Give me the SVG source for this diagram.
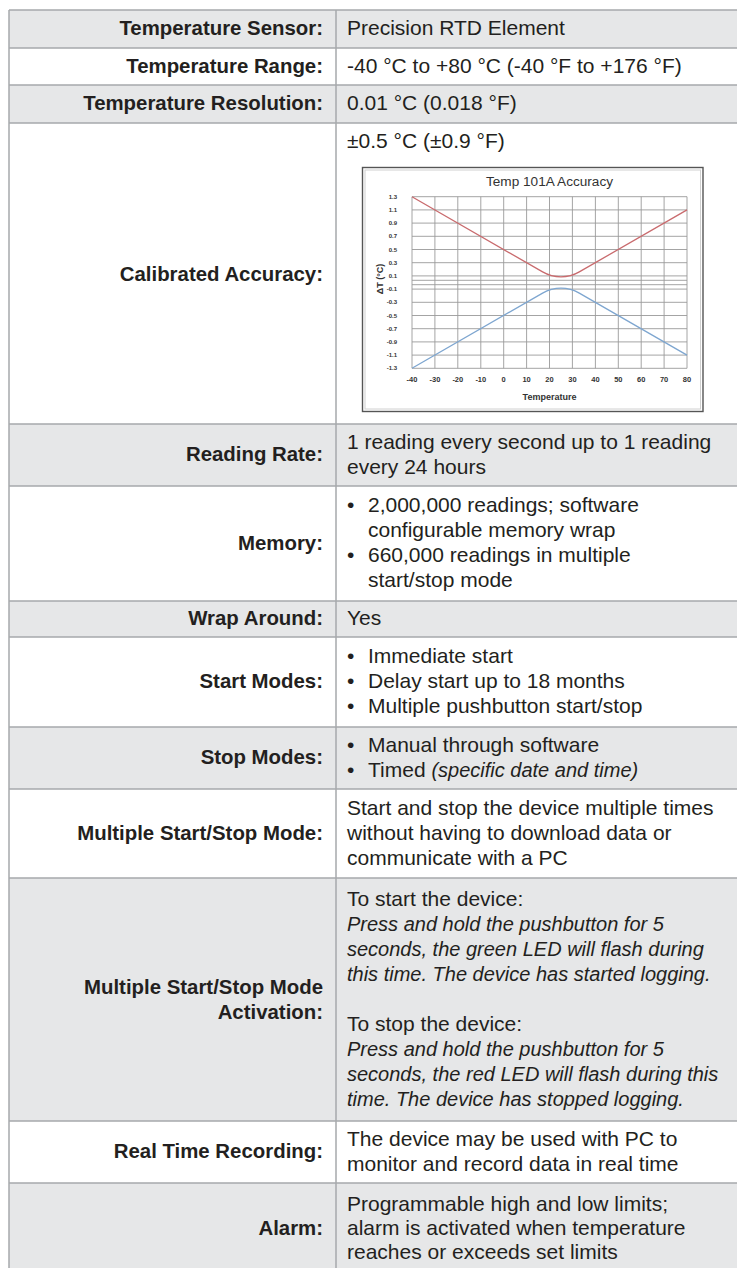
<svg xmlns="http://www.w3.org/2000/svg" width="737" height="1268" viewBox="0 0 737 1268">
<style>
.g{fill:#e6e7e8}
.w{fill:#ffffff}
.ln{stroke:#a7a9ac;stroke-width:1.5;fill:none}
.lb{font-family:"Liberation Sans",Arial,sans-serif;font-weight:bold;font-size:20.4px;fill:#231f20;text-anchor:end}
.v{font-family:"Liberation Sans",Arial,sans-serif;font-size:21px;fill:#231f20}
.i{font-family:"Liberation Sans",Arial,sans-serif;font-size:20px;font-style:italic;fill:#231f20}
.grid{stroke:#9a9a9a;stroke-width:0.9;fill:none}
.tk{font-family:"Liberation Sans",Arial,sans-serif;font-size:6px;font-weight:bold;fill:#333;text-anchor:end}
.tx{font-family:"Liberation Sans",Arial,sans-serif;font-size:7.5px;font-weight:bold;fill:#333;text-anchor:middle}
</style>
<rect x="0" y="0" width="737" height="1268" fill="#ffffff"/>
<g id="row-sensor">
<rect class="g" x="9" y="10" width="728" height="38"/>
<text class="lb" x="323" y="35">Temperature Sensor:</text>
<text class="v" x="347" y="35">Precision RTD Element</text>
</g>
<g id="row-range">
<rect class="w" x="9" y="48" width="728" height="37"/>
<text class="lb" x="323" y="72.5">Temperature Range:</text>
<text class="v" x="347" y="72.5">-40 °C to +80 °C (-40 °F to +176 °F)</text>
</g>
<g id="row-resolution">
<rect class="g" x="9" y="85" width="728" height="38"/>
<text class="lb" x="323" y="110">Temperature Resolution:</text>
<text class="v" x="347" y="110">0.01 °C (0.018 °F)</text>
</g>
<g id="row-accuracy">
<rect class="w" x="9" y="123" width="728" height="301"/>
<text class="lb" x="323" y="281">Calibrated Accuracy:</text>
<text class="v" x="347" y="147.5">±0.5 °C (±0.9 °F)</text>
<g id="chart">
<rect x="362.5" y="167.5" width="340.5" height="244" fill="#ffffff" stroke="#555555" stroke-width="1.4"/>
<rect x="365" y="170" width="335.5" height="239" fill="none" stroke="#d0d0d0" stroke-width="1"/>
<text x="549.5" y="186" font-family="Liberation Sans, Arial, sans-serif" font-size="12" fill="#333" text-anchor="middle" textLength="127" lengthAdjust="spacingAndGlyphs">Temp 101A Accuracy</text>
<g class="grid">
<path d="M412 196.7V368.3M434.9 196.7V368.3M457.8 196.7V368.3M480.8 196.7V368.3M503.7 196.7V368.3M526.6 196.7V368.3M549.5 196.7V368.3M572.4 196.7V368.3M595.4 196.7V368.3M618.3 196.7V368.3M641.2 196.7V368.3M664.1 196.7V368.3M687 196.7V368.3"/>
<path d="M412 196.7H687M412 209.9H687M412 223.1H687M412 236.3H687M412 249.5H687M412 262.7H687M412 275.9H687M412 280.3H687M412 284.7H687M412 289.1H687M412 302.3H687M412 315.5H687M412 328.7H687M412 341.9H687M412 355.1H687M412 368.3H687"/>
</g>
<path d="M412 196.7L542.6 271.9C554.1 278.5 567.9 278.5 579.3 271.9L687 209.9" fill="none" stroke="#c96b6e" stroke-width="1.3"/>
<path d="M412 368.3L542.6 293.1C554.1 286.5 567.9 286.5 579.3 293.1L687 355.1" fill="none" stroke="#7ea6d0" stroke-width="1.3"/>
<g class="tk">
<text x="397" y="198.7">1.3</text><text x="397" y="211.9">1.1</text><text x="397" y="225.1">0.9</text><text x="397" y="238.3">0.7</text><text x="397" y="251.5">0.5</text><text x="397" y="264.7">0.3</text><text x="397" y="277.9">0.1</text><text x="397" y="291.1">-0.1</text><text x="397" y="304.3">-0.3</text><text x="397" y="317.5">-0.5</text><text x="397" y="330.7">-0.7</text><text x="397" y="343.9">-0.9</text><text x="397" y="357.1">-1.1</text><text x="397" y="370.3">-1.3</text>
</g>
<g class="tx">
<text x="412" y="382">-40</text><text x="434.9" y="382">-30</text><text x="457.8" y="382">-20</text><text x="480.8" y="382">-10</text><text x="503.7" y="382">0</text><text x="526.6" y="382">10</text><text x="549.5" y="382">20</text><text x="572.4" y="382">30</text><text x="595.4" y="382">40</text><text x="618.3" y="382">50</text><text x="641.2" y="382">60</text><text x="664.1" y="382">70</text><text x="687" y="382">80</text>
</g>
<text x="549.5" y="400" font-family="Liberation Sans, Arial, sans-serif" font-size="9" font-weight="bold" fill="#333" text-anchor="middle">Temperature</text>
<text transform="translate(383 279) rotate(-90)" font-family="Liberation Sans, Arial, sans-serif" font-size="9" font-weight="bold" fill="#333" text-anchor="middle">ΔT (°C)</text>
</g>
</g>
<g id="row-reading-rate">
<rect class="g" x="9" y="424" width="728" height="62"/>
<text class="lb" x="323" y="461">Reading Rate:</text>
<text class="v" x="347" y="448.5">1 reading every second up to 1 reading</text>
<text class="v" x="347" y="473.5">every 24 hours</text>
</g>
<g id="row-memory">
<rect class="w" x="9" y="486" width="728" height="115"/>
<text class="lb" x="323" y="549.5">Memory:</text>
<text class="v" x="347" y="512">•</text><text class="v" x="368" y="512">2,000,000 readings; software</text>
<text class="v" x="368" y="537">configurable memory wrap</text>
<text class="v" x="347" y="562">•</text><text class="v" x="368" y="562">660,000 readings in multiple</text>
<text class="v" x="368" y="587">start/stop mode</text>
</g>
<g id="row-wrap">
<rect class="g" x="9" y="601" width="728" height="36"/>
<text class="lb" x="323" y="625">Wrap Around:</text>
<text class="v" x="347" y="625">Yes</text>
</g>
<g id="row-start-modes">
<rect class="w" x="9" y="637" width="728" height="90"/>
<text class="lb" x="323" y="688">Start Modes:</text>
<text class="v" x="347" y="663">•</text><text class="v" x="368" y="663">Immediate start</text>
<text class="v" x="347" y="688">•</text><text class="v" x="368" y="688">Delay start up to 18 months</text>
<text class="v" x="347" y="713">•</text><text class="v" x="368" y="713">Multiple pushbutton start/stop</text>
</g>
<g id="row-stop-modes">
<rect class="g" x="9" y="727" width="728" height="62"/>
<text class="lb" x="323" y="764">Stop Modes:</text>
<text class="v" x="347" y="751.5">•</text><text class="v" x="368" y="751.5">Manual through software</text>
<text class="v" x="347" y="776.5">•</text><text class="v" x="368" y="776.5">Timed <tspan class="i">(specific date and time)</tspan></text>
</g>
<g id="row-multi-mode">
<rect class="w" x="9" y="789" width="728" height="89"/>
<text class="lb" x="323" y="839.5">Multiple Start/Stop Mode:</text>
<text class="v" x="347" y="814.5">Start and stop the device multiple times</text>
<text class="v" x="347" y="839.5">without having to download data or</text>
<text class="v" x="347" y="864.5">communicate with a PC</text>
</g>
<g id="row-activation">
<rect class="g" x="9" y="878" width="728" height="243"/>
<text class="lb" x="323" y="994">Multiple Start/Stop Mode</text>
<text class="lb" x="323" y="1019">Activation:</text>
<text class="v" x="347" y="905.5">To start the device:</text>
<text class="i" x="347" y="930.5">Press and hold the pushbutton for 5</text>
<text class="i" x="347" y="955.5">seconds, the green LED will flash during</text>
<text class="i" x="347" y="980.5">this time. The device has started logging.</text>
<text class="v" x="347" y="1030.5">To stop the device:</text>
<text class="i" x="347" y="1055.5">Press and hold the pushbutton for 5</text>
<text class="i" x="347" y="1080.5">seconds, the red LED will flash during this</text>
<text class="i" x="347" y="1105.5">time. The device has stopped logging.</text>
</g>
<g id="row-realtime">
<rect class="w" x="9" y="1121" width="728" height="62"/>
<text class="lb" x="323" y="1158">Real Time Recording:</text>
<text class="v" x="347" y="1146">The device may be used with PC to</text>
<text class="v" x="347" y="1170.5">monitor and record data in real time</text>
</g>
<g id="row-alarm">
<rect class="g" x="9" y="1183" width="728" height="85"/>
<text class="lb" x="323" y="1235">Alarm:</text>
<text class="v" x="347" y="1211">Programmable high and low limits;</text>
<text class="v" x="347" y="1235">alarm is activated when temperature</text>
<text class="v" x="347" y="1259">reaches or exceeds set limits</text>
</g>
<g id="table-lines" class="ln">
<path d="M9 10H737M9 48H737M9 85H737M9 123H737M9 424H737M9 486H737M9 601H737M9 637H737M9 727H737M9 789H737M9 878H737M9 1121H737M9 1183H737"/>
<path d="M9 10V1268M336 10V1268"/>
</g>
</svg>
